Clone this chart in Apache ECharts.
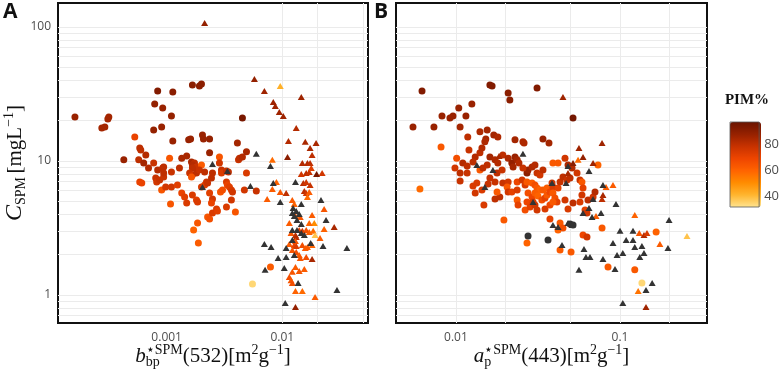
<!DOCTYPE html>
<html>
<head>
<meta charset="utf-8">
<script src="https://cdn.jsdelivr.net/npm/echarts@6/dist/echarts.min.js"></script>
<style>
  html, body { margin: 0; padding: 0; background: #fff; }
  #chart { width: 782px; height: 374px; }
</style>
</head>
<body>
<div id="chart"></div>
<script>
// ---- data: [b*bp SPM(532) or a*p SPM(443), C_SPM, PIM%] ----
const bbpCircles = [
  [1.61e-4,21.3,87],[2.75e-4,17.6,85],[2.92e-4,17.9,85],[3.16e-4,21.3,85],[3.1e-4,20.6,85],
  [4.26e-4,10.2,87],[5.30e-4,15.1,70],[5.85e-4,12.5,80],[5.97e-4,12.1,80],[6.6e-4,11.1,82],
  [5.73e-4,10.2,80],[6.33e-4,9.67,85],[5.85e-4,6.97,70],[6.09e-4,6.85,70],[6.97e-4,8.87,82],
  [7.88e-4,26.6,88],[8.36e-4,33.3,92],[9.24e-4,24.9,87],[9.05e-4,17.9,87],[7.72e-4,17.0,88],
  [7.72e-4,9.67,78],[8.04e-4,7.47,78],[8.2e-4,6.97,76],[8.70e-4,7.22,78],[9.42e-4,7.60,78],
  [8.36e-4,8.57,82],[9.24e-4,8.87,80],[9.42e-4,8.14,80],[9.05e-4,6.08,64],[9.8e-4,6.40,76],
  [1.13e-3,32.7,90],[1.10e-3,21.7,88],[1.13e-3,14.1,87],[1.06e-3,10.5,64],[9.42e-4,9.02,80],
  [1.10e-3,8.28,78],[1.10e-3,6.40,76],[1.08e-3,4.78,64],[1.24e-3,6.62,72],[1.35e-3,10.5,84],
  [1.49e-3,10.9,84],[1.29e-3,8.87,80],[1.35e-3,5.77,70],[1.43e-3,5.39,72],[1.49e-3,4.86,74],
  [1.55e-3,14.4,87],[1.61e-3,14.6,87],[1.67e-3,36.9,90],[1.92e-3,36.3,90],[2.0e-3,37.6,90],
  [2.04e-3,15.6,87],[2.08e-3,14.6,87],[2.35e-3,14.6,88],[2.35e-3,11.5,87],[1.64e-3,9.84,84],
  [1.74e-3,9.67,80],[1.67e-3,9.34,82],[1.81e-3,9.02,78],[1.67e-3,8.87,80],[2.0e-3,9.34,62],
  [1.58e-3,8.14,78],[1.67e-3,7.86,76],[1.81e-3,8.14,80],[1.92e-3,8.57,78],[2.13e-3,8.28,80],
  [1.64e-3,7.60,64],[1.67e-3,5.58,74],[1.81e-3,5.12,72],[1.85e-3,4.94,74],[1.71e-3,3.06,60],
  [1.85e-3,3.45,64],[1.88e-3,2.44,62],[2.0e-3,6.40,74],[2.13e-3,6.62,72],[2.21e-3,6.97,76],
  [2.26e-3,6.85,78],[2.44e-3,7.47,80],[2.49e-3,8.14,80],[2.35e-3,5.77,72],[2.49e-3,5.20,76],
  [2.44e-3,4.86,70],[2.26e-3,3.82,64],[2.35e-3,3.69,66],[2.49e-3,4.09,74],[2.70e-3,4.39,74],
  [2.75e-3,4.24,72],[2.86e-3,10.7,64],[2.86e-3,9.67,76],[2.98e-3,8.57,78],[2.98e-3,8.14,74],
  [3.29e-3,8.42,78],[3.42e-3,8.28,80],[2.92e-3,5.87,64],[3.04e-3,6.08,66],[3.29e-3,6.97,74],
  [3.35e-3,6.62,70],[3.49e-3,6.40,72],[3.63e-3,6.08,74],[3.71e-3,5.87,76],[3.29e-3,4.54,74],
  [3.93e-3,4.16,64],[3.63e-3,5.12,76],[4.09e-3,13.6,85],[4.18e-3,10.2,78],[4.26e-3,10.5,80],
  [4.52e-3,10.7,82],[4.90e-3,11.7,84],[4.90e-3,8.14,74],[4.70e-3,6.08,76],[5.96e-3,5.97,78],
  [4.52e-3,20.9,94],[7.9e-3,1.62,62],[5.52e-3,1.21,34]
];
const bbpTriangles = [
  [2.13e-3,107,88],[5.74e-3,40.9,88],[7.0e-3,33.3,86],[8.36e-3,27.5,86],[8.7e-3,25.7,86],
  [9.6e-3,36.3,42],[9.42e-3,23.2,86],[0.0102,21.7,86],[0.0146,30.0,86],[0.0132,17.6,82],
  [0.0111,10.7,90],[0.0113,14.1,82],[0.0158,13.9,84],[0.0174,12.5,84],[0.0196,13.6,84],
  [0.0181,11.1,80],[0.0149,9.67,82],[0.0165,9.67,82],[0.0174,9.67,80],[0.0198,8.0,94],
  [0.0161,8.14,80],[0.0171,8.28,78],[0.0146,8.0,76],[0.0178,8.87,72],[0.0152,6.85,80],
  [0.0161,6.97,76],[0.0174,6.62,78],[0.0155,5.97,80],[0.0161,5.77,76],[0.0171,5.87,62],
  [0.0165,5.39,58],[0.0221,8.14,76],[8.2e-3,10.2,58],[8.9e-3,6.97,60],[8.2e-3,6.19,62],
  [9.6e-3,5.87,64],[7.4e-3,5.20,62],[0.0108,5.77,80],[0.0122,5.12,62],[0.0127,4.78,60],
  [0.0230,4.39,64],[0.0130,3.89,62],[0.0143,3.82,64],[0.0181,3.95,62],[0.0189,3.45,50],
  [0.0171,3.45,60],[0.0115,3.45,62],[0.0230,3.11,60],[0.0281,3.22,84],[0.0140,3.06,70],
  [0.0149,3.01,76],[0.0161,3.06,66],[0.0119,2.90,64],[0.0130,2.80,80],[0.0132,2.71,82],
  [0.0171,2.95,62],[0.0185,3.01,58],[0.0192,2.80,38],[0.0212,2.66,62],[0.0130,2.53,64],
  [0.0115,2.40,62],[0.0127,2.36,70],[0.0132,2.32,74],[0.0149,2.36,66],[0.0165,2.28,62],
  [0.0181,2.36,60],[0.0122,2.17,64],[0.0132,2.09,66],[0.0158,2.24,62],[0.0140,1.99,62],
  [0.0143,1.89,64],[0.0161,1.92,66],[0.0181,1.86,84],[0.0130,1.62,62],[0.0140,1.51,64],
  [0.0155,1.56,62],[0.0122,1.49,64],[0.0115,1.36,66],[0.0119,1.29,64],[0.0122,1.23,66],
  [0.0130,1.07,60],[0.0149,1.07,58],[0.0192,0.966,62],[0.0130,0.813,88]
];
// samples without PIM% (drawn dark grey)
const bbpTrianglesNA = [
  [2.49e-3,9.50],[3.35e-3,8.42],[2.04e-3,6.40],
  [5.96e-3,11.3],[7.9e-3,9.18],[5.30e-3,6.51],[8.36e-3,6.85],[9.6e-3,4.94],[0.0130,6.97],
  [0.0146,4.78],[0.0216,5.12],[0.0124,4.46],[0.0132,4.24],[0.0122,4.09],[0.0127,3.89],
  [0.0140,4.02],[0.0134,3.63],[0.0146,3.39],[0.0239,3.63],[0.0122,3.06],[0.0134,3.06],
  [0.0146,2.90],[0.0155,2.80],[0.0122,2.57],[0.0176,2.44],[0.0225,2.32],[0.0108,2.24],
  [7.0e-3,2.40],[8.0e-3,2.28],[0.0362,2.24],[9.2e-3,1.89],[0.0108,1.92],[0.0127,1.99],
  [0.0104,1.59],[7.1e-3,1.54],[0.0137,1.23],[0.0297,1.09],[0.0106,0.871]
];

const apCircles = [
  [0.00621,33.3,92],[0.0161,36.9,92],[0.0166,36.3,92],[0.0208,32.2,90],[0.0213,28.5,90],
  [0.0312,35.1,92],[0.0517,20.9,95],[0.00547,17.9,87],[0.00734,17.9,87],[0.00822,21.7,87],
  [0.00919,20.9,87],[0.00959,21.7,87],[0.0104,24.9,87],[0.0115,21.7,87],[0.0125,26.6,87],
  [0.0106,17.9,85],[0.00811,12.7,63],[0.0118,15.1,80],[0.0140,16.5,83],[0.0155,17.0,85],
  [0.0152,14.6,85],[0.0150,13.9,83],[0.0170,15.6,85],[0.0180,15.1,83],[0.0229,14.4,85],
  [0.0256,13.9,83],[0.0260,13.6,83],[0.0339,14.6,87],[0.0369,13.6,85],[0.0101,10.5,66],
  [0.00986,8.87,76],[0.0110,9.67,82],[0.0117,9.18,80],[0.0106,8.14,80],[0.0117,8.14,78],
  [0.0106,7.09,78],[0.0120,12.1,78],[0.0131,10.7,82],[0.0140,11.5,80],[0.0127,9.84,80],
  [0.0140,8.57,63],[0.0146,8.87,80],[0.0155,9.34,80],[0.0161,10.7,85],[0.0173,10.2,83],
  [0.0180,9.67,82],[0.0144,12.5,82],[0.0193,11.1,80],[0.0208,10.5,83],[0.0219,9.67,88],
  [0.0223,9.02,85],[0.0229,10.7,87],[0.0236,10.2,85],[0.0178,8.14,80],[0.0191,8.57,78],
  [0.0161,7.47,78],[0.0173,6.97,78],[0.0134,6.85,74],[0.0127,6.51,74],[0.0131,5.77,76],
  [0.0144,6.08,74],[0.0157,6.74,78],[0.0173,5.20,80],[0.0185,5.39,80],[0.0193,6.85,78],
  [0.0208,6.97,76],[0.0205,6.40,63],[0.0178,5.87,63],[0.0208,5.87,76],[0.0219,5.87,71],
  [0.0236,6.97,69],[0.0253,7.22,76],[0.0264,6.62,74],[0.0271,8.14,90],[0.0275,8.57,87],
  [0.0291,9.02,83],[0.0303,9.34,82],[0.0256,8.87,78],[0.0242,9.67,82],[0.0312,8.14,78],
  [0.0325,7.86,76],[0.0339,8.57,80],[0.0271,6.97,63],[0.0291,6.85,62],[0.0303,6.62,66],
  [0.0312,6.29,63],[0.0325,6.08,60],[0.0339,6.08,63],[0.0359,6.29,62],[0.0275,5.77,66],
  [0.0291,5.39,69],[0.0303,5.77,62],[0.0316,5.48,60],[0.0334,5.12,66],[0.0349,5.29,71],
  [0.0359,5.58,63],[0.0374,5.87,69],[0.0390,6.40,74],[0.0385,6.85,76],[0.0390,5.77,63],
  [0.0401,5.29,66],[0.0413,4.94,71],[0.0419,6.29,71],[0.0431,6.97,78],[0.0449,7.60,80],
  [0.0475,7.22,78],[0.0496,7.47,80],[0.0236,5.12,63],[0.0271,4.94,69],[0.0264,4.31,66],
  [0.0283,4.54,71],[0.0312,4.31,76],[0.0349,4.39,74],[0.0374,4.70,69],[0.0390,4.94,63],
  [0.0374,3.69,71],[0.0431,3.45,63],[0.0295,4.94,74],[0.0303,4.70,76],[0.0462,5.12,76],
  [0.0482,4.39,74],[0.0517,4.86,80],[0.0570,4.94,74],[0.0547,8.14,76],[0.0570,7.22,78],
  [0.0586,6.97,63],[0.0595,6.29,71],[0.0586,5.58,76],[0.0390,9.67,63],[0.0419,9.67,63],
  [0.0462,10.5,76],[0.0482,9.34,83],[0.0510,8.87,82],[0.0612,4.31,71],[0.0629,4.09,76],
  [0.0638,5.12,80],[0.0685,5.39,76],[0.0704,5.87,82],[0.0734,9.34,60],[0.0777,3.16,63],
  [0.0595,2.80,69],[0.0629,2.71,76],[0.0271,2.44,60],[0.0196,3.63,63],[0.0148,4.70,74],
  [0.0236,6.08,74],[0.0239,4.70,71],[0.0431,2.17,62],[0.0503,2.09,63],[0.0419,3.06,60],
  [0.0449,3.16,66],[0.0845,1.62,63],[0.123,1.54,63],[0.136,1.23,34],[0.166,2.95,60],
  [0.00603,6.19,58]
];
const apTriangles = [
  [0.0449,30.0,86],[0.0562,12.5,86],[0.0777,13.6,86],[0.0595,10.7,88],[0.0555,10.2,58],
  [0.0517,9.67,90],[0.0685,9.67,86],[0.0482,8.14,84],[0.0183,10.9,84],[0.0822,6.40,62],
  [0.0906,6.62,62],[0.0787,5.58,84],[0.0777,5.20,80],[0.0714,3.89,62],[0.123,3.95,60],
  [0.131,2.90,64],[0.140,2.80,82],[0.146,2.90,74],[0.175,2.40,62],[0.256,2.76,38],
  [0.129,1.07,56],[0.144,0.813,86]
];
const apCirclesNA = [[0.0275,2.76],[0.0364,2.57],[0.0496,3.39],[0.0517,3.33]];
const apTrianglesNA = [
  [0.0134,9.34],[0.0168,8.57],[0.0256,11.3],[0.0385,6.85],[0.0295,4.94],[0.0150,6.40],
  [0.0482,9.18],[0.0647,8.42],[0.0469,6.85],[0.0787,6.62],[0.0685,5.20],[0.0945,4.78],
  [0.0647,4.46],[0.0595,4.09],[0.0675,3.82],[0.0766,4.09],[0.0390,3.33],[0.0419,3.22],
  [0.0482,3.45],[0.0510,3.33],[0.0443,2.36],[0.100,3.01],[0.0906,2.44],[0.109,2.57],
  [0.120,2.57],[0.120,3.01],[0.123,2.28],[0.136,2.32],[0.140,2.06],[0.132,1.92],
  [0.199,3.63],[0.196,2.24],[0.0959,1.99],[0.104,2.06],[0.0787,1.86],[0.0603,2.20],
  [0.0620,1.92],[0.0656,1.92],[0.0562,1.54],[0.0932,1.56],[0.157,1.23],[0.144,1.09],
  [0.104,0.871]
];

// ticks, grid lines, colour scale
const yTicks = [1, 10, 100];
const xTicksA = [0.001, 0.01];
const xTicksB = [0.01, 0.1];
const yGrid = [0.7, 0.8, 0.9, 1, 2, 3, 4, 5, 6, 7, 8, 9, 10, 20, 30, 40, 50, 60, 70, 80, 90, 100];
const xGridA = [0.0002, 0.0005, 0.001, 0.002, 0.005, 0.01, 0.02, 0.05];
const xGridB = [0.005, 0.01, 0.02, 0.05, 0.1, 0.2];
const pimTicks = [40, 60, 80];
const pimColors = ['#FFE38F', '#FFB52E', '#FF8C00', '#FF6300', '#EE4500', '#C73200', '#962100', '#6B1400'];

const PIM_MIN = 31.5, PIM_MAX = 97;
const Y_MIN = 0.618, Y_MAX = 151;
const XA_MIN = 1.149e-4, XA_MAX = 0.0551;
const XB_MIN = 0.00431, XB_MAX = 0.339;

const gridA = { left: 58, top: 3, width: 310, height: 320 };
const gridB = { left: 396, top: 3, width: 311, height: 320 };

const SERIF = "'Liberation Serif', 'DejaVu Serif', serif";
const SANS = "'Open Sans', 'Liberation Sans', sans-serif";
const NA_COLOR = '#333333';

const ctx = document.createElement('canvas').getContext('2d');

// lay out a formula out of runs (super/subscripts), centred on x, baseline at y
function mathTitle(runs, x, y, rotation) {
  let cursor = 0, lastStart = 0;
  const placed = runs.map(r => {
    const font = (r.i ? 'italic ' : '') + (r.b ? 'bold ' : '') + r.s + 'px ' + SERIF;
    ctx.font = font;
    const w = ctx.measureText(r.t).width;
    let x0;
    if (r.stack) {
      x0 = lastStart;
      cursor = Math.max(cursor, x0 + w);
    } else {
      x0 = cursor;
      lastStart = x0;
      cursor = x0 + w;
    }
    return { r, font, x0 };
  });
  const W = cursor;
  return {
    type: 'group', x, y, rotation: rotation || 0,
    children: placed.map(p => ({
      type: 'text',
      x: p.x0 - W / 2,
      y: -0.32 * p.r.s + (p.r.dy || 0),
      style: {
        text: p.r.t, font: p.font, fill: '#111',
        textAlign: 'left', textVerticalAlign: 'middle', verticalAlign: 'middle'
      }
    }))
  };
}

function tickFmt(list) {
  return v => {
    const hit = list.find(t => Math.abs(t - v) / t < 1e-6);
    return hit === undefined ? '' : String(hit);
  };
}

function logX(idx, min, max, ticks) {
  return {
    gridIndex: idx, type: 'log', logBase: 10, min, max,
    axisLine: { show: false },
    splitLine: { show: false },
    axisTick: { show: false },
    axisLabel: { formatter: tickFmt(ticks), color: '#4D4D4D', fontSize: 12, fontFamily: SANS, margin: 9,
      showMinLabel: false, showMaxLabel: false }
  };
}
function logY(idx, labels) {
  return {
    gridIndex: idx, type: 'log', logBase: 10, min: Y_MIN, max: Y_MAX,
    axisLine: { show: false },
    splitLine: { show: false },
    axisTick: { show: false },
    axisLabel: { show: labels, formatter: tickFmt(yTicks), color: '#4D4D4D', fontSize: 12, fontFamily: SANS, margin: 7,
      showMinLabel: false, showMaxLabel: false }
  };
}

function points(data, idx, symbol, na) {
  return {
    type: 'scatter', xAxisIndex: idx, yAxisIndex: idx, data,
    symbol, symbolSize: symbol === 'circle' ? 7 : [7, 6],
    itemStyle: na ? { color: NA_COLOR, opacity: 1 } : { opacity: 1 },
    silent: true, z: 8
  };
}

function gridLines(idx, xs) {
  return {
    type: 'scatter', xAxisIndex: idx, yAxisIndex: idx, data: [], silent: true, z: 1,
    markLine: {
      silent: true, symbol: 'none', animation: false, z: 1,
      label: { show: false },
      lineStyle: { color: '#EBEBEB', width: 1, type: 'solid' },
      emphasis: { disabled: true },
      data: yGrid.map(v => ({ yAxis: v })).concat(xs.map(v => ({ xAxis: v })))
    }
  };
}

const chart = echarts.init(document.getElementById('chart'), null, { renderer: 'canvas' });

chart.setOption({
  animation: false,
  backgroundColor: '#fff',
  grid: [
    Object.assign({ show: true, borderColor: '#111', borderWidth: 2, backgroundColor: '#fff' }, gridA),
    Object.assign({ show: true, borderColor: '#111', borderWidth: 2, backgroundColor: '#fff' }, gridB),
    { left: 730, top: 122, width: 31, height: 85, show: true, borderColor: '#555', borderWidth: 0.8,
      backgroundColor: 'transparent', z: 10 }
  ],
  xAxis: [
    logX(0, XA_MIN, XA_MAX, xTicksA),
    logX(1, XB_MIN, XB_MAX, xTicksB),
    { gridIndex: 2, type: 'value', show: false, min: 0, max: 1 }
  ],
  yAxis: [
    logY(0, true),
    logY(1, false),
    {
      gridIndex: 2, type: 'value', min: PIM_MIN, max: PIM_MAX, position: 'right',
      axisLine: { show: false }, splitLine: { show: false },
      axisTick: { show: true, length: 3, customValues: pimTicks, lineStyle: { color: '#333' } },
      axisLabel: { customValues: pimTicks, color: '#4D4D4D', fontSize: 13, fontFamily: SANS, margin: 5 }
    }
  ],
  visualMap: {
    type: 'continuous', min: PIM_MIN, max: PIM_MAX, dimension: 2,
    seriesIndex: [0, 1, 2, 3],
    inRange: { color: pimColors },
    calculable: false, text: null, hoverLink: false,
    itemWidth: 31, itemHeight: 85, left: 730, top: 122, padding: 0
  },
  series: [
    points(bbpCircles, 0, 'circle'),
    points(bbpTriangles, 0, 'triangle'),
    points(apCircles, 1, 'circle'),
    points(apTriangles, 1, 'triangle'),
    points(bbpTrianglesNA, 0, 'triangle', true),
    points(apCirclesNA, 1, 'circle', true),
    points(apTrianglesNA, 1, 'triangle', true),
    gridLines(0, xGridA),
    gridLines(1, xGridB)
  ],
  graphic: [
    { type: 'text', left: 3, top: 2, style: { text: 'A', font: 'bold 21px ' + SANS, fill: '#111' } },
    { type: 'text', left: 374, top: 2, style: { text: 'B', font: 'bold 21px ' + SANS, fill: '#111' } },
    { type: 'text', x: 747, y: 100, style: { text: 'PIM%', font: 'bold 15px ' + SERIF, fill: '#111',
      textAlign: 'center', textVerticalAlign: 'middle', verticalAlign: 'middle' } },
    mathTitle([
      { t: 'b', i: true, s: 21 },
      { t: '\u22C6SPM', s: 14, dy: -8 },
      { t: 'bp', s: 14, dy: 4, stack: true },
      { t: '(532)[m', s: 21 },
      { t: '2', s: 14, dy: -8 },
      { t: 'g', s: 21 },
      { t: '\u22121', s: 14, dy: -8 },
      { t: ']', s: 21 }
    ], gridA.left + gridA.width / 2, 363),
    mathTitle([
      { t: 'a', i: true, s: 21 },
      { t: '\u22C6SPM', s: 14, dy: -8 },
      { t: 'p', s: 14, dy: 4, stack: true },
      { t: '(443)[m', s: 21 },
      { t: '2', s: 14, dy: -8 },
      { t: 'g', s: 21 },
      { t: '\u22121', s: 14, dy: -8 },
      { t: ']', s: 21 }
    ], gridB.left + gridB.width / 2, 363),
    mathTitle([
      { t: 'C', i: true, s: 24 },
      { t: 'SPM ', s: 14, dy: 4 },
      { t: '[mgL', s: 21 },
      { t: '\u22121', s: 14, dy: -8 },
      { t: ']', s: 21 }
    ], 22, gridA.top + gridA.height / 2, Math.PI / 2)
  ]
});
</script>
</body>
</html>
